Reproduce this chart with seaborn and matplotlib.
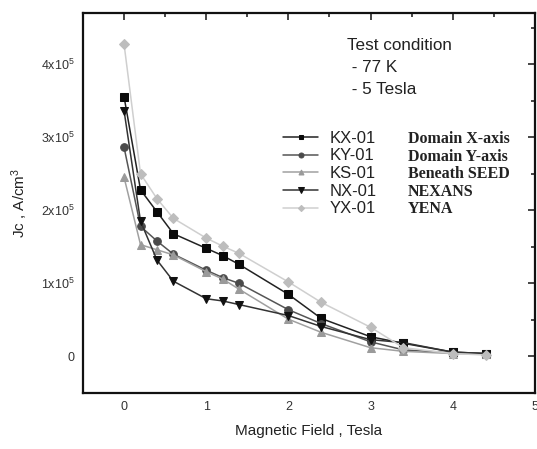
import pandas as pd
import matplotlib
matplotlib.use('Agg')
import matplotlib.pyplot as plt
import seaborn as sns
from matplotlib.ticker import MultipleLocator, FixedLocator, FixedFormatter

# 数据 (Jc 单位: 1e5 A/cm^3)
field = [0, 0.2, 0.4, 0.6, 1.0, 1.2, 1.4, 2.0, 2.4, 3.0, 3.4, 4.0, 4.4]
kx01 = [3.55, 2.28, 1.98, 1.68, 1.48, 1.38, 1.26, 0.85, 0.52, 0.27, 0.18, 0.06, 0.04]
ky01 = [2.86, 1.78, 1.58, 1.40, 1.18, 1.08, 1.00, 0.64, 0.45, 0.20, 0.09, 0.05, 0.04]
ks01 = [2.45, 1.53, 1.46, 1.39, 1.16, 1.06, 0.92, 0.51, 0.33, 0.12, 0.07, 0.04, 0.03]
nx01 = [3.36, 1.85, 1.32, 1.03, 0.79, 0.76, 0.71, 0.56, 0.41, 0.23, 0.19, 0.06, 0.04]
yx01 = [4.27, 2.50, 2.16, 1.89, 1.62, 1.51, 1.41, 1.02, 0.74, 0.40, 0.12, 0.04, 0.02]

samples = ['KX-01', 'KY-01', 'KS-01', 'NX-01', 'YX-01']
descriptions = ['Domain X-axis', 'Domain Y-axis', 'Beneath SEED', 'NEXANS', 'YENA']
series = [kx01, ky01, ks01, nx01, yx01]

ytick_vals = [0, 1, 2, 3, 4]
ytick_labels = ['0', '1x10$^5$', '2x10$^5$', '3x10$^5$', '4x10$^5$']

# 样式
markers = ['s', 'o', '^', 'v', 'D']
line_colors = ['#222222', '#555555', '#a0a0a0', '#333333', '#cfcfcf']
marker_colors = ['#0a0a0a', '#4a4a4a', '#9a9a9a', '#111111', '#bdbdbd']
msizes = [5.5, 5.5, 5.5, 6, 4.8]

sns.set_style('white')
plt.rcParams['font.family'] = ['Liberation Sans', 'DejaVu Sans']
plt.rcParams['mathtext.default'] = 'regular'

fig = plt.figure(figsize=(5.37, 4.49), dpi=100)
ax = fig.add_axes([0.1546, 0.1247, 0.8414, 0.8463])

for name, vals, mk, lc, mc, ms in zip(samples, series, markers, line_colors, marker_colors, msizes):
    df = pd.DataFrame({'B': field, 'Jc': [v * 1e5 for v in vals]})
    sns.lineplot(data=df, x='B', y='Jc', ax=ax, color=lc, linewidth=1.1,
                 marker=mk, markersize=ms, markerfacecolor=mc, markeredgecolor=mc,
                 label=name)

ax.set_xlim(-0.5, 5.0)
ax.set_ylim(-0.5e5, 4.7e5)
ax.xaxis.set_major_locator(MultipleLocator(1))
ax.xaxis.set_minor_locator(MultipleLocator(0.5))
ax.yaxis.set_major_locator(FixedLocator([v * 1e5 for v in ytick_vals]))
ax.yaxis.set_major_formatter(FixedFormatter(ytick_labels))
ax.yaxis.set_minor_locator(MultipleLocator(0.5e5))
ax.tick_params(which='both', direction='in', top=True, right=True, width=1.2)
ax.tick_params(which='major', length=5, labelsize=9, labelcolor='#333333', pad=6)
ax.tick_params(which='minor', length=3)
for s in ax.spines.values():
    s.set_linewidth(1.6)
    s.set_color('#111111')

ax.set_xlabel('Magnetic Field , Tesla', fontsize=11, color='#222222', labelpad=8)
ax.set_ylabel('Jc , A/cm$^3$', fontsize=11, color='#222222', labelpad=8)

# 图例
leg = ax.legend(loc='upper left', bbox_to_anchor=(0.443, 0.69), frameon=False,
                fontsize=12, handlelength=2.1, handletextpad=0.7, labelspacing=0.16,
                borderaxespad=0, borderpad=0, markerscale=0.65)
for t in leg.get_texts():
    t.set_color('#222222')

# 样品说明
for i, d in enumerate(descriptions):
    ax.text(0.719, (393 - (139 + 17.5 * i)) / 380, d, transform=ax.transAxes, fontsize=11.5,
            family=['Liberation Serif', 'DejaVu Serif'], fontweight='bold',
            color='#222222', va='center')

ax.text(0.584, 0.935, 'Test condition\n - 77 K\n - 5 Tesla', transform=ax.transAxes,
        fontsize=12.3, color='#222222', va='top', ha='left', linespacing=1.58)

plt.savefig('out.png', dpi=100)
